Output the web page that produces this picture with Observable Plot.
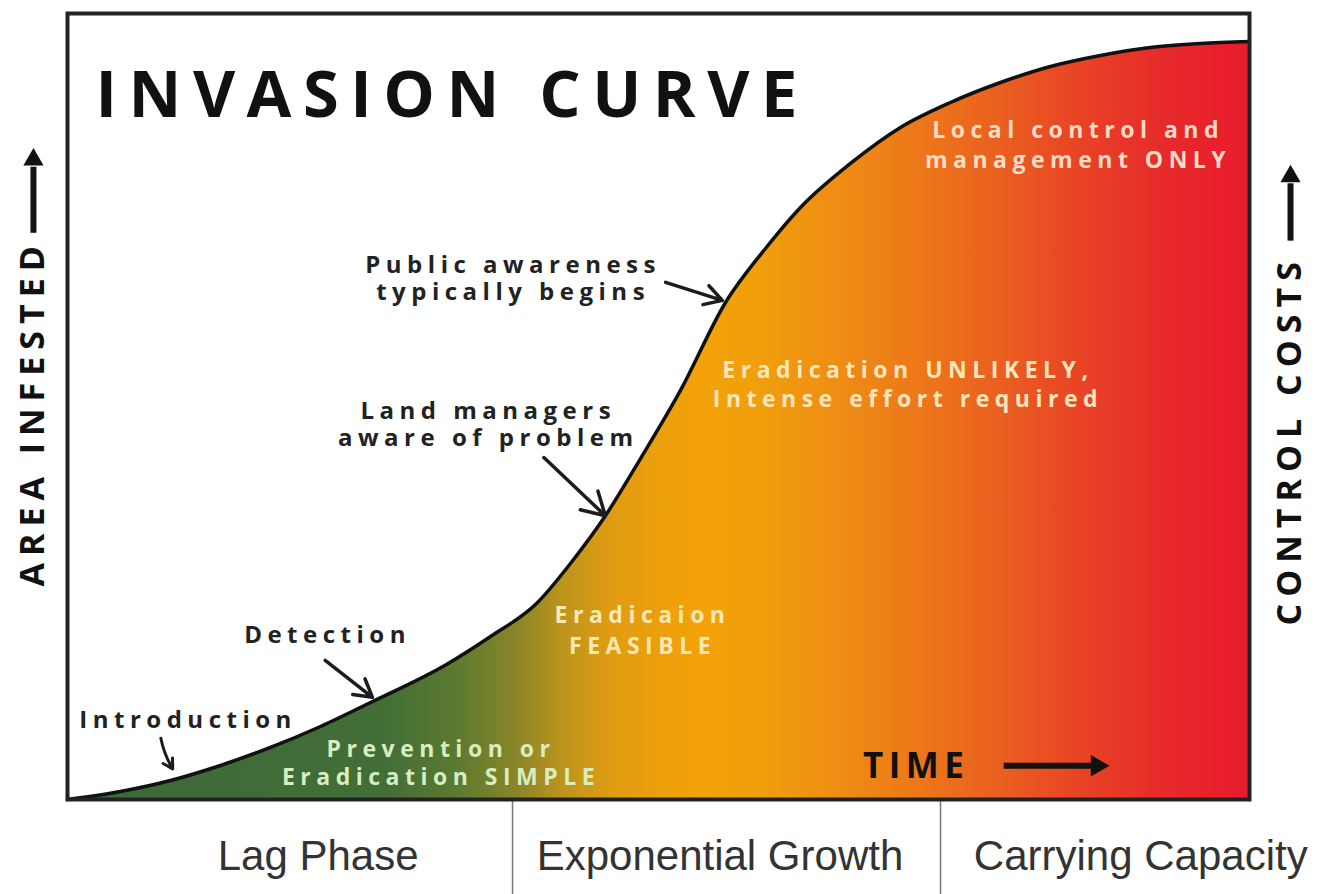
<!DOCTYPE html>
<html>
<head>
<meta charset="utf-8">
<script src="https://cdn.jsdelivr.net/npm/d3@7"></script>
<script src="https://cdn.jsdelivr.net/npm/@observablehq/plot@0.6"></script>
<style>
  html, body { margin: 0; padding: 0; background: #fff; }
  svg text { letter-spacing: 5.5px; }
  g[font-family="Liberation Sans"] text { letter-spacing: 0px; }
  g[font-size="65"] text { letter-spacing: 11.5px; }
  g[font-size="34"] text { letter-spacing: 7px; }
</style>
</head>
<body>
<div id="chart"></div>
<script>
// ---- data ----
const time = [0, 4.48, 8.71, 12.94, 17.17, 21.40, 25.63, 32.06, 35.79, 39.68, 42.55, 45.52, 48.48, 51.86, 55.67, 59.05, 62.01, 66.24, 70.47, 74.70, 78.93, 83.16, 87.39, 91.62, 95.85, 100];
const area = [0, 1.02, 2.42, 4.33, 6.62, 9.29, 12.34, 17.18, 20.74, 24.94, 30.03, 36.13, 43.38, 52.04, 63.23, 70.10, 75.32, 80.92, 85.50, 88.68, 91.22, 93.26, 94.66, 95.67, 96.18, 96.44];
const phases = ["Lag Phase", "Exponential Growth", "Carrying Capacity"];
const phaseCenters = [21.2, 55.2, 90.8];
const phaseBounds = [37.65, 73.86];
const title = "INVASION CURVE";
const gradientColors = ["#3a683a", "#436e36", "#5c7a30", "#8a8428", "#bd951c", "#e09c12", "#f3a208", "#f1a00c", "#ee8b14", "#ed741a", "#ea5f20", "#e83e26", "#e62a2a", "#ea1e2c", "#e2202e"];
const gradientOffsets = [0, 0.27, 0.33, 0.38, 0.42, 0.46, 0.53, 0.58, 0.66, 0.73, 0.79, 0.87, 0.93, 0.98, 1];

const curve = time.map((t, i) => ({t, a: area[i]}));
const phaseRows = phases.map((p, i) => ({label: p, x: phaseCenters[i]}));

const ink = "#1c1c1c";
const F = "Open Sans";

const plot = Plot.plot({
  width: 1326,
  height: 894,
  marginLeft: 67,
  marginRight: 77,
  marginTop: 13,
  marginBottom: 95,
  x: {domain: [0, 100], axis: null},
  y: {domain: [0, 100], axis: null},
  style: {background: "#fff", overflow: "visible"},
  marks: [
    Plot.areaY(curve, {x: "t", y: "a", fill: "url(#invgrad)", curve: "monotone-x"}),
    Plot.lineY(curve, {x: "t", y: "a", stroke: "#111", strokeWidth: 3.5, curve: "monotone-x"}),
    // title
    Plot.text([title], {x: 2.37, y: 86.8, text: d => d, textAnchor: "start", lineAnchor: "bottom", fontFamily: F, fontWeight: 700, fontSize: 65, fill: "#111"}),
    // dark annotations
    Plot.text(["Public awareness\ntypically begins"], {x: 37.7, y: 66.4, text: d => d, fontFamily: F, fontWeight: 700, fontSize: 24, lineHeight: 1.13, fill: "#222"}),
    Plot.text(["Land managers\naware of problem"], {x: 35.6, y: 47.8, text: d => d, fontFamily: F, fontWeight: 700, fontSize: 24, lineHeight: 1.13, fill: "#222"}),
    Plot.text(["Detection"], {x: 22.0, y: 20.9, text: d => d, fontFamily: F, fontWeight: 700, fontSize: 24, fill: "#222"}),
    Plot.text(["Introduction"], {x: 10.2, y: 10.05, text: d => d, fontFamily: F, fontWeight: 700, fontSize: 24, fill: "#222"}),
    // light annotations inside the area
    Plot.text(["Prevention or\nEradication SIMPLE"], {x: 31.6, y: 4.8, text: d => d, fontFamily: F, fontWeight: 700, fontSize: 23, lineHeight: 1.25, fill: "#d6efc2"}),
    Plot.text(["Eradicaion\nFEASIBLE"], {x: 48.65, y: 21.7, text: d => d, fontFamily: F, fontWeight: 700, fontSize: 23, lineHeight: 1.35, fill: "#fce8b2"}),
    Plot.text(["Eradication UNLIKELY,\nIntense effort required"], {x: 71.1, y: 53.0, text: d => d, fontFamily: F, fontWeight: 700, fontSize: 23, lineHeight: 1.3, fill: "#fde6bc"}),
    Plot.text(["Local control and\nmanagement ONLY"], {x: 85.5, y: 83.5, text: d => d, fontFamily: F, fontWeight: 700, fontSize: 23, lineHeight: 1.3, fill: "#fddcc6"}),
    Plot.text(["TIME"], {x: 71.8, y: 4.1, text: d => d, fontFamily: F, fontWeight: 700, fontSize: 35, fill: "#111"}),
    // annotation arrows
    Plot.arrow([0], {x1: 7.9, y1: 7.8, x2: 8.9, y2: 3.9, stroke: ink, strokeWidth: 3, headLength: 9, bend: -10}),
    Plot.arrow([0], {x1: 21.8, y1: 17.7, x2: 25.8, y2: 13.0, stroke: ink, strokeWidth: 3.5, headLength: 11}),
    Plot.arrow([0], {x1: 40.3, y1: 43.5, x2: 45.5, y2: 36.1, stroke: ink, strokeWidth: 3.5, headLength: 11}),
    Plot.arrow([0], {x1: 50.6, y1: 65.8, x2: 55.4, y2: 63.5, stroke: ink, strokeWidth: 3.5, headLength: 11}),
    // TIME arrow (shaft + filled head)
    Plot.link([0], {x1: 79.2, y1: 4.3, x2: 86.6, y2: 4.3, stroke: "#111", strokeWidth: 6}),
    Plot.dot([0], {x: 87.1, y: 4.3, symbol: "triangle", r: 8, rotate: 90, fill: "#111", stroke: "none"}),
    // side labels with arrows
    Plot.text(["AREA INFESTED"], {x: -2.88, y: 49.2, text: d => d, rotate: -90, fontFamily: F, fontWeight: 700, fontSize: 34, fill: "#111"}),
    Plot.link([0], {x1: -2.88, y1: 72.1, x2: -2.88, y2: 80.5, stroke: "#111", strokeWidth: 6}),
    Plot.dot([0], {x: -2.88, y: 81.4, symbol: "triangle", r: 7.5, fill: "#111", stroke: "none"}),
    Plot.text(["CONTROL COSTS"], {x: 103.47, y: 45.7, text: d => d, rotate: -90, fontFamily: F, fontWeight: 700, fontSize: 34, fill: "#111"}),
    Plot.link([0], {x1: 103.47, y1: 71.1, x2: 103.47, y2: 78.4, stroke: "#111", strokeWidth: 6}),
    Plot.dot([0], {x: 103.47, y: 79.26, symbol: "triangle", r: 7.5, fill: "#111", stroke: "none"}),
    // phases below the frame
    Plot.ruleX(phaseBounds, {y1: -0.2, y2: -12.2, stroke: "#777", strokeWidth: 1.5}),
    Plot.text(phaseRows, {x: "x", y: -7.2, text: "label", fontFamily: "Liberation Sans", fontSize: 42, fill: "#333"}),
    Plot.frame({stroke: "#222", strokeWidth: 4})
  ]
});

// gradient definition, positioned with the x scale
const xs = plot.scale("x");
const defs = d3.select(plot).insert("defs", ":first-child");
const grad = defs.append("linearGradient")
  .attr("id", "invgrad")
  .attr("gradientUnits", "userSpaceOnUse")
  .attr("x1", xs.apply(0)).attr("x2", xs.apply(100))
  .attr("y1", 0).attr("y2", 0);
gradientColors.forEach((c, i) => grad.append("stop").attr("offset", gradientOffsets[i]).attr("stop-color", c));

document.getElementById("chart").appendChild(plot);
</script>
</body>
</html>
